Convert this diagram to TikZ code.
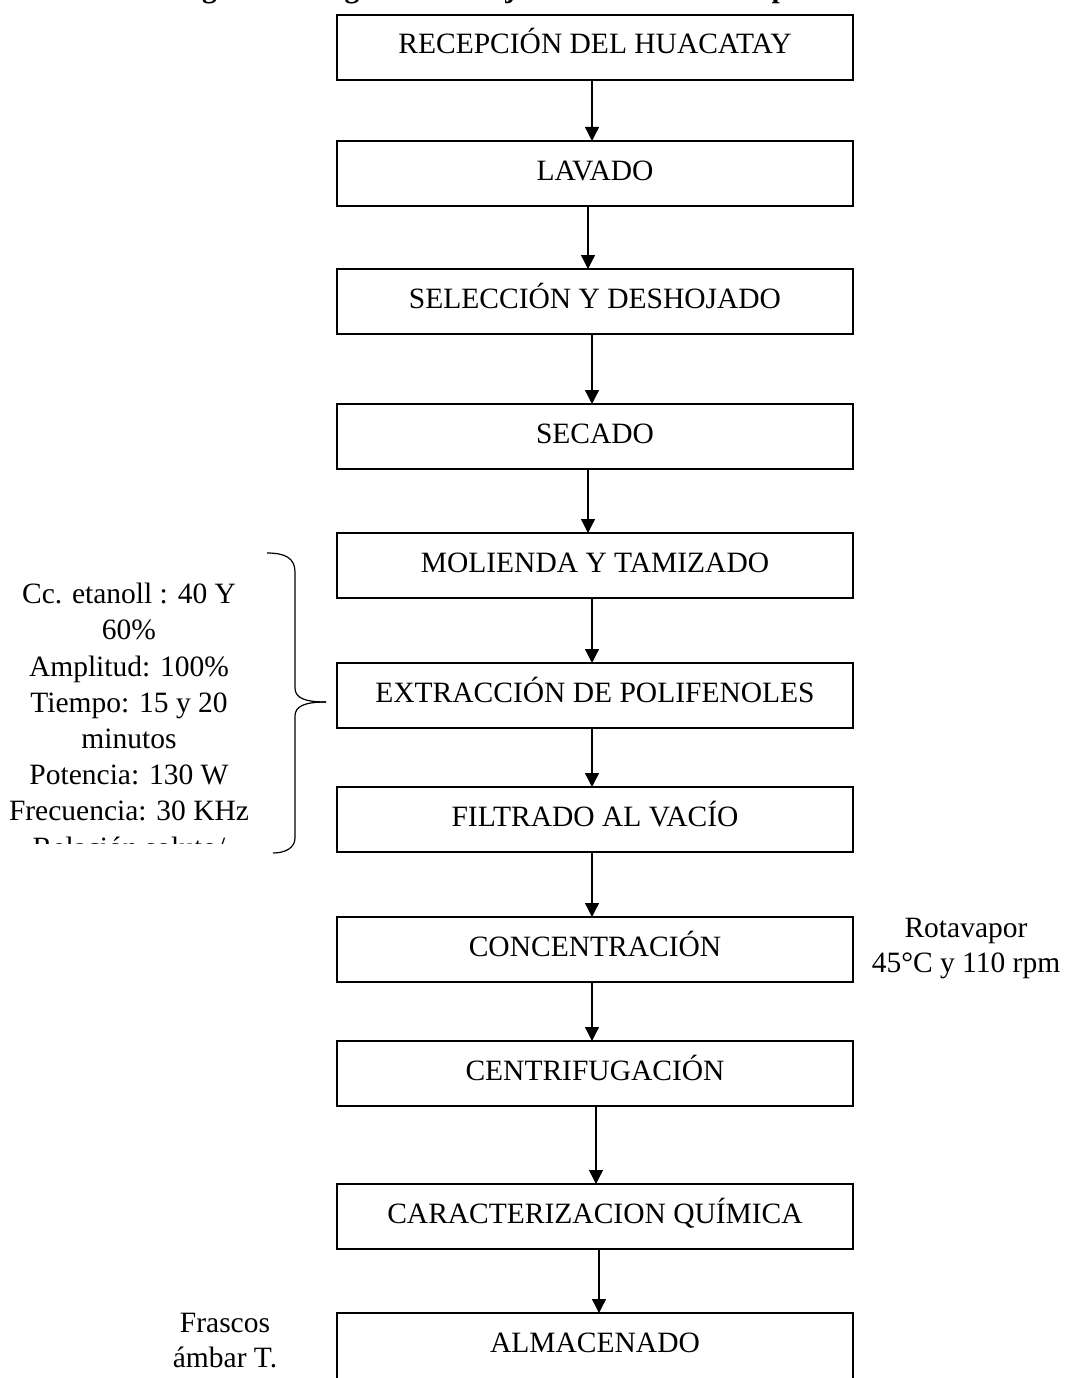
\documentclass[tikz,border=0pt]{standalone}
\usepackage{fontspec}
\setmainfont{Liberation Serif}
\usetikzlibrary{arrows.meta}
\begin{document}
\begin{tikzpicture}[x=1pt,y=-1pt,
  box/.style={draw, line width=2.3pt, minimum width=516pt, inner xsep=0pt, inner ysep=18pt,
    text height=21pt, text depth=8pt, anchor=north, outer sep=0pt, font=\fontsize{29.5}{35}\selectfont},
  arr/.style={line width=1.3pt, -{Triangle[length=14pt,width=14pt]}},
  note/.style={align=center, inner sep=0pt, anchor=north, font=\fontsize{29.5}{35}\selectfont},
  bracepath/.style={line width=1.2pt}]
\useasboundingbox (0,0) rectangle (1075,1378);
\clip (0,0) rectangle (1075,1378);
\fill[white] (0,0) rectangle (1075,1378);

% cut-off title
\node[font=\bfseries\fontsize{29.5}{35}\selectfont, anchor=base, inner sep=0pt] (title) at (541,-2)
  {Figura 1. Diagrama de flujo de la obtención de polifenoles};

% process boxes
\node[box] (b1) at (595,15) {RECEPCIÓN DEL HUACATAY};
\node[box] (b2) at (595,141) {LAVADO};
\node[box] (b3) at (595,269) {SELECCIÓN Y DESHOJADO};
\node[box] (b4) at (595,404) {SECADO};
\node[box] (b5) at (595,533) {MOLIENDA Y TAMIZADO};
\node[box] (b6) at (595,663) {EXTRACCIÓN DE POLIFENOLES};
\node[box] (b7) at (595,787) {FILTRADO AL VACÍO};
\node[box] (b8) at (595,917) {CONCENTRACIÓN};
\node[box] (b9) at (595,1041) {CENTRIFUGACIÓN};
\node[box] (b10) at (595,1184) {CARACTERIZACION QUÍMICA};
\node[box, text depth=100pt] (b11) at (595,1313) {ALMACENADO};

% arrows
\draw[arr] ([xshift=-3pt]b1.south) -- ([xshift=-3pt]b2.north);
\draw[arr] ([xshift=-7pt]b2.south) -- ([xshift=-7pt]b3.north);
\draw[arr] ([xshift=-3pt]b3.south) -- ([xshift=-3pt]b4.north);
\draw[arr] ([xshift=-7pt]b4.south) -- ([xshift=-7pt]b5.north);
\draw[arr] ([xshift=-3pt]b5.south) -- ([xshift=-3pt]b6.north);
\draw[arr] ([xshift=-3pt]b6.south) -- ([xshift=-3pt]b7.north);
\draw[arr] ([xshift=-3pt]b7.south) -- ([xshift=-3pt]b8.north);
\draw[arr] ([xshift=-3pt]b8.south) -- ([xshift=-3pt]b9.north);
\draw[arr] ([xshift=1pt]b9.south) -- ([xshift=1pt]b10.north);
\draw[arr] ([xshift=4pt]b10.south) -- ([xshift=4pt]b11.north);

% brace
\coordinate (btip) at (326,702);
\draw[bracepath] (267,553) .. controls (285,553) and (295,558) .. (295,572) -- (295,688)
  .. controls (295,698) and (305,702) .. (btip);
\draw[bracepath] (btip) .. controls (305,702) and (295,706) .. (295,716) -- (295,838)
  .. controls (295,848) and (285,853) .. (273,853);

% left conditions (clipped)
\begin{scope}
\clip (0,560) rectangle (285,843);
\node[note, font=\fontsize{29.5}{36.2}\selectfont] (cond) at (129,583) {Cc. etanoll : 40 Y\\60\%\\Amplitud: 100\%\\Tiempo: 15 y 20\\minutos\\Potencia: 130 W\\Frecuencia: 30 KHz\\Relación soluto/};
\end{scope}

% right note
\node[note] (rot) at (966,918) {Rotavapor\\45°C y 110 rpm};

% bottom-left note
\node[note] (fras) at (225,1312.5) {Frascos\\ámbar T.};
\end{tikzpicture}
\end{document}
